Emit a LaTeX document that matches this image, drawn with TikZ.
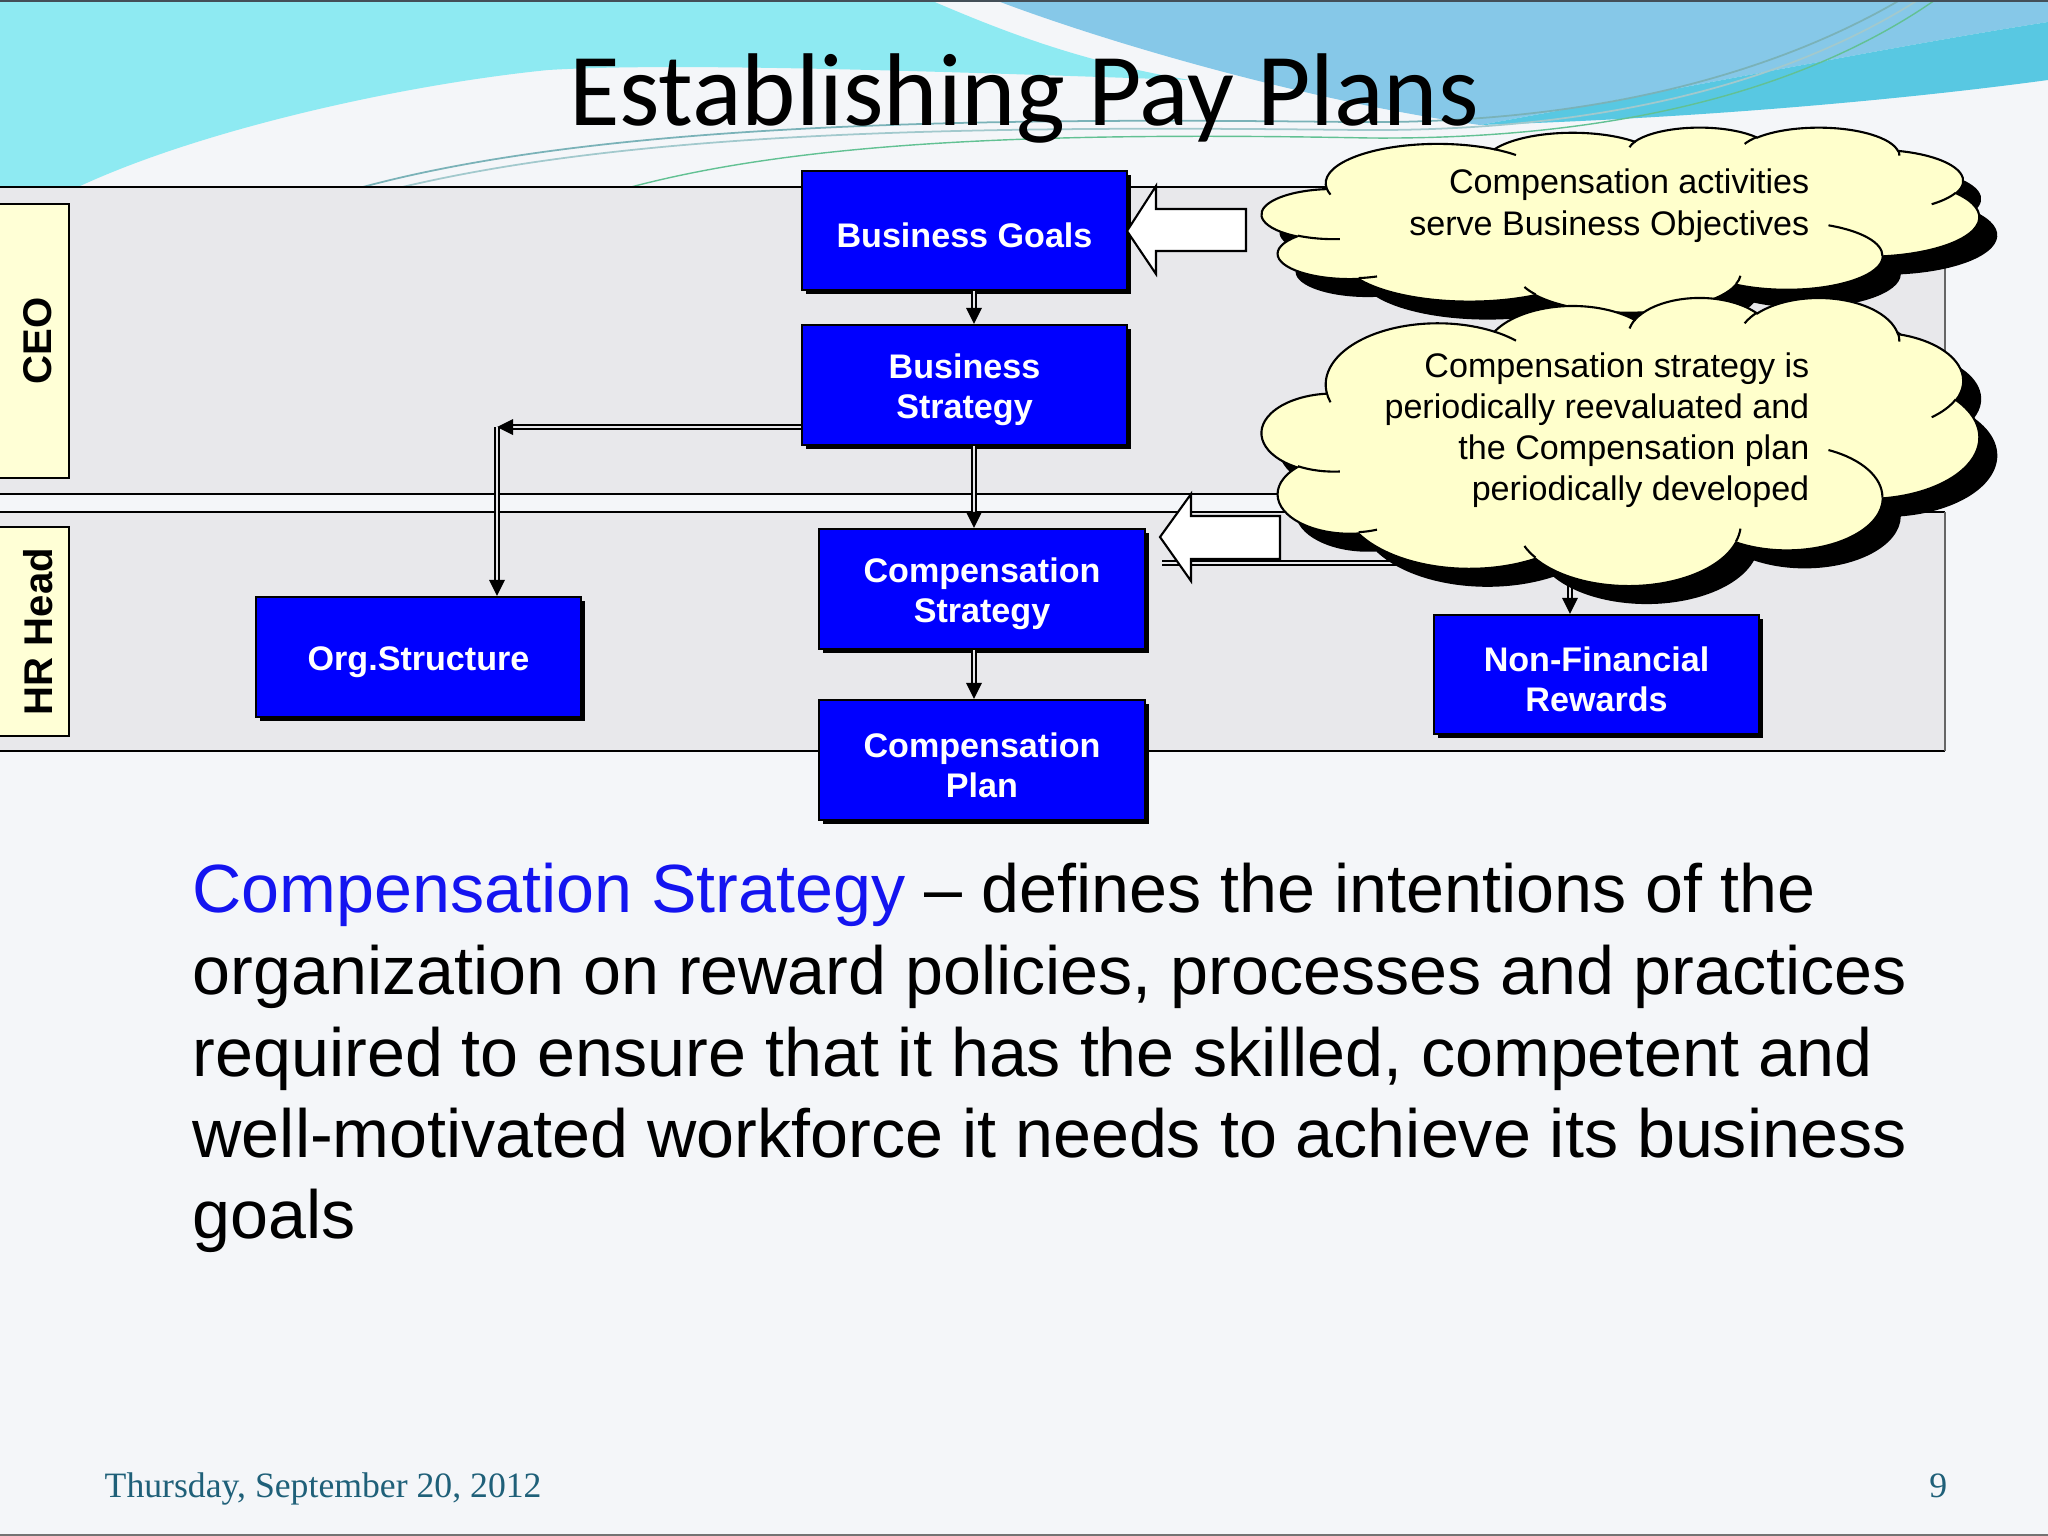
\documentclass[tikz,border=0pt]{standalone}
\usepackage{fontspec}
\setmainfont{Liberation Sans}
\newfontfamily\titlefont{Carlito}
\newfontfamily\footfont{Liberation Serif}
\usetikzlibrary{arrows.meta,calc,shadows}

\definecolor{pagebg}{HTML}{F4F6F9}
\definecolor{lanegray}{HTML}{E8E8EB}
\definecolor{labelyel}{HTML}{FFFFD6}
\definecolor{cloudyel}{HTML}{FFFFCC}
\definecolor{boxblue}{HTML}{0000FF}
\definecolor{textblue}{HTML}{1414F0}
\definecolor{topcyan}{HTML}{8EEAF2}
\definecolor{topblue}{HTML}{86C8E8}
\definecolor{stripecol}{HTML}{58C8E2}
\definecolor{footcol}{HTML}{1F6079}
\definecolor{swoosh}{HTML}{7AB2B8}

\newcommand\prepArc[5]{%
  \pgfmathsetmacro\tmpA{atan2((#2)*sin(#4),(#3)*cos(#4))}%
  \pgfmathsetmacro\tmpB{atan2((#2)*sin((#4)+(#5)),(#3)*cos((#4)+(#5)))}%
  \pgfmathsetmacro\tmpD{mod(\tmpB-\tmpA+720,360)}%
  \expandafter\xdef\csname cs#1\endcsname{\tmpA}%
  \expandafter\xdef\csname cd#1\endcsname{\tmpD}%
}
\prepArc{1}{6.753}{9.190}{-190.487}{123.781}
\prepArc{2}{5.333}{7.267}{-144.102}{89.945}
\prepArc{3}{4.365}{5.945}{-145.808}{99.723}
\prepArc{4}{4.857}{6.595}{-130.986}{117.242}
\prepArc{5}{5.333}{7.273}{-78.709}{109.027}
\prepArc{6}{6.775}{9.220}{-46.267}{130.269}
\prepArc{7}{5.785}{7.867}{0.625}{114.033}
\prepArc{8}{6.752}{9.215}{22.452}{115.173}
\prepArc{9}{7.720}{10.543}{66.243}{75.711}
\prepArc{10}{4.360}{5.918}{-274.942}{146.736}
\prepArc{11}{4.345}{5.945}{-246.829}{152.519}
\prepArc{a}{4.345}{5.945}{86.742}{26.430}
\prepArc{b}{4.360}{5.918}{73.611}{11.447}
\prepArc{c}{6.752}{9.215}{137.624}{14.081}
\prepArc{d}{6.752}{9.215}{6.453}{15.998}
\prepArc{e}{5.785}{7.867}{-70.292}{70.917}
\prepArc{f}{5.333}{7.273}{30.318}{27.752}
\prepArc{g}{4.857}{6.595}{-13.744}{14.859}
\prepArc{h}{4.857}{6.595}{-149.181}{18.195}
\prepArc{i}{4.365}{5.945}{-163.494}{17.686}
\prepArc{j}{6.753}{9.190}{-66.707}{12.319}
\prepArc{k}{6.753}{9.190}{157.654}{11.858}

\newcommand\cloudshape[5]{%
\begin{scope}[shift={(#1,#2)},xscale=#3/43.2,yscale=#4/43.2]
\path[#5] (3.9,14.37)
 arc[start angle=\csname cs1\endcsname,delta angle=\csname cd1\endcsname,x radius=6.753,y radius=9.190]
 arc[start angle=\csname cs2\endcsname,delta angle=\csname cd2\endcsname,x radius=5.333,y radius=7.267]
 arc[start angle=\csname cs3\endcsname,delta angle=\csname cd3\endcsname,x radius=4.365,y radius=5.945]
 arc[start angle=\csname cs4\endcsname,delta angle=\csname cd4\endcsname,x radius=4.857,y radius=6.595]
 arc[start angle=\csname cs5\endcsname,delta angle=\csname cd5\endcsname,x radius=5.333,y radius=7.273]
 arc[start angle=\csname cs6\endcsname,delta angle=\csname cd6\endcsname,x radius=6.775,y radius=9.220]
 arc[start angle=\csname cs7\endcsname,delta angle=\csname cd7\endcsname,x radius=5.785,y radius=7.867]
 arc[start angle=\csname cs8\endcsname,delta angle=\csname cd8\endcsname,x radius=6.752,y radius=9.215]
 arc[start angle=\csname cs9\endcsname,delta angle=\csname cd9\endcsname,x radius=7.720,y radius=10.543]
 arc[start angle=\csname cs10\endcsname,delta angle=\csname cd10\endcsname,x radius=4.360,y radius=5.918]
 arc[start angle=\csname cs11\endcsname,delta angle=\csname cd11\endcsname,x radius=4.345,y radius=5.945]
 -- cycle;
\end{scope}}

\newcommand\cloudinner[4]{%
\begin{scope}[shift={(#1,#2)},xscale=#3/43.2,yscale=#4/43.2]
\draw[cloudline]
 (4.693,26.177) arc[start angle=\csname csa\endcsname,delta angle=\csname cda\endcsname,x radius=4.345,y radius=5.945]
 (6.928,34.899) arc[start angle=\csname csb\endcsname,delta angle=\csname cdb\endcsname,x radius=4.360,y radius=5.918]
 (16.478,39.090) arc[start angle=\csname csc\endcsname,delta angle=\csname cdc\endcsname,x radius=6.752,y radius=9.215]
 (28.827,34.751) arc[start angle=\csname csd\endcsname,delta angle=\csname cdd\endcsname,x radius=6.752,y radius=9.215]
 (34.129,22.954) arc[start angle=\csname cse\endcsname,delta angle=\csname cde\endcsname,x radius=5.785,y radius=7.867]
 (41.798,15.354) arc[start angle=\csname csf\endcsname,delta angle=\csname cdf\endcsname,x radius=5.333,y radius=7.273]
 (38.324,5.426) arc[start angle=\csname csg\endcsname,delta angle=\csname cdg\endcsname,x radius=4.857,y radius=6.595]
 (29.078,3.952) arc[start angle=\csname csh\endcsname,delta angle=\csname cdh\endcsname,x radius=4.857,y radius=6.595]
 (22.141,4.720) arc[start angle=\csname csi\endcsname,delta angle=\csname cdi\endcsname,x radius=4.365,y radius=5.945]
 (14.000,5.192) arc[start angle=\csname csj\endcsname,delta angle=\csname cdj\endcsname,x radius=6.753,y radius=9.190]
 (4.127,15.789) arc[start angle=\csname csk\endcsname,delta angle=\csname cdk\endcsname,x radius=6.753,y radius=9.190];
\end{scope}}

\newcommand\tipdown[1]{\fill[black] (#1) -- ++(-8,-16) -- ++(16,0) -- cycle;}
\newcommand\tipleft[1]{\fill[black] (#1) -- ++(16,-8) -- ++(0,16) -- cycle;}

\tikzset{
  lanefill/.style={fill=lanegray},
  lanestroke/.style={draw=black, line width=0.6pt},
  labelbox/.style={draw=black, line width=0.6pt, fill=labelyel, inner sep=0pt},
  lanetext/.style={rotate=90, inner sep=0pt, font=\bfseries\fontsize{11.4}{13}\selectfont},
  bluebox/.style={draw=black, line width=0.6pt, fill=boxblue, inner sep=0pt,
     drop shadow={shadow xshift=1.1pt, shadow yshift=-1.1pt, fill=black, opacity=1}},
  boxlabel/.style={text=white, align=center, inner sep=0pt, yshift=-1.4pt,
     font=\bfseries\fontsize{9.7}{11.4}\selectfont},
  dbl/.style={draw=black, line width=0.45pt, double=lanegray, double distance=0.7pt},
  blockarrow/.style={draw=black, line width=0.6pt, fill=white, line join=miter},
  cloudline/.style={draw=black, line width=0.6pt},
  cloudtext/.style={anchor=base east, inner sep=0pt, font=\fontsize{9.7}{11.5}\selectfont},
  bodytext/.style={anchor=base west, inner sep=0pt, font=\fontsize{19.4}{23}\selectfont},
  foottext/.style={inner sep=0pt, text=footcol, font=\footfont\fontsize{10.15}{12}\selectfont},
}

\begin{document}
\begin{tikzpicture}[x=0.01cm, y=-0.01cm]
\useasboundingbox (0,0) rectangle (2048,1536);
% page
\fill[pagebg] (0,0) rectangle (2048,1536);
% top decoration
\fill[topcyan] (0,0) -- (930,0) .. controls (1000,30) and (1080,62) .. (1190,80)
   .. controls (950,72) and (680,62) .. (548,70)
   .. controls (400,85) and (200,130) .. (78,187) -- (0,196) -- cycle;
\fill[topblue] (995,0) .. controls (1100,40) and (1300,100) .. (1480,125)
   .. controls (1700,85) and (1900,45) .. (2048,22) -- (2048,0) -- cycle;
\fill[stripecol] (1480,125) .. controls (1700,85) and (1900,45) .. (2048,22)
   -- (2048,80) .. controls (1900,100) and (1700,118) .. (1480,125) -- cycle;
\draw[swoosh, line width=0.5pt] (352,190) .. controls (600,120) and (1000,118) .. (1350,122) .. controls (1600,125) and (1780,70) .. (1900,0);
\draw[swoosh!70!white, line width=0.5pt] (390,190) .. controls (640,128) and (1000,126) .. (1360,130) .. controls (1620,132) and (1800,75) .. (1918,0);
\draw[swoosh!80!green, line width=0.4pt] (620,190) .. controls (800,140) and (1050,132) .. (1370,138) .. controls (1640,140) and (1820,80) .. (1935,0);
\draw[black!75!cyan, line width=0.8pt] (0,1) -- (2048,1);

% lanes
\fill[lanefill] (-5,187) rectangle (1945,494);
\draw[lanestroke] (-5,187) -- (1945,187);
\draw[lanestroke] (-5,494) -- (1945,494);
\draw[black!60, line width=0.4pt] (1945,187) -- (1945,494);
\fill[lanefill] (-5,512) rectangle (1945,751);
\draw[lanestroke] (-5,512) -- (1945,512);
\draw[lanestroke] (-5,751) -- (1945,751);
\draw[black!60, line width=0.4pt] (1945,512) -- (1945,751);

\node[labelbox, minimum width=0.72cm, minimum height=2.74cm] (ceo) at (33,341) {};
\node[lanetext] (ceotext) at ([xshift=1.4pt]ceo.center) {CEO};
\node[labelbox, minimum width=0.72cm, minimum height=2.09cm] (hr) at (33,631.5) {};
\node[lanetext] (hrtext) at ([xshift=1.4pt]hr.center) {HR Head};

% boxes
\node[bluebox, minimum width=3.25cm, minimum height=1.19cm, label={[boxlabel]center:Business Goals}] (bg) at (964.5,230.5) {};
\node[bluebox, minimum width=3.25cm, minimum height=1.20cm, label={[boxlabel]center:{Business\\Strategy}}] (bs) at (964.5,385) {};
\node[bluebox, minimum width=3.26cm, minimum height=1.20cm, label={[boxlabel]center:{Compensation\\Strategy}}] (cs) at (982,589) {};
\node[bluebox, minimum width=3.26cm, minimum height=1.20cm, label={[boxlabel]center:{Compensation\\Plan}}] (cp) at (982,760) {};
\node[bluebox, minimum width=3.25cm, minimum height=1.19cm, label={[boxlabel]center:{Non-Financial\\Rewards}}] (nfr) at (1596.5,674.5) {};
\node[bluebox, minimum width=3.25cm, minimum height=1.20cm, label={[boxlabel]center:Org.Structure}] (org) at (418.5,657) {};

% connectors
\coordinate (xa) at (974,0);
\coordinate (c1) at (497,427);
\coordinate (c2) at (1570,560);
\coordinate (c3) at (1420,563);
\coordinate (c4) at (1162,563);
\draw[dbl, shorten >=4pt] (bg.south -| xa) -- (bs.north -| xa);
\tipdown{bs.north -| xa}
\draw[dbl, shorten >=4pt] (bs.south -| xa) -- (cs.north -| xa);
\tipdown{cs.north -| xa}
\draw[dbl, shorten >=4pt] (cs.south -| xa) -- (cp.north -| xa);
\tipdown{cp.north -| xa}
\draw[dbl, shorten >=4pt] (bs.west |- c1) -- (c1);
\tipleft{c1}
\draw[dbl, shorten >=4pt] (c1) -- (org.north -| c1);
\tipdown{org.north -| c1}
\draw[dbl, shorten >=4pt] (c2) -- (nfr.north -| c2);
\tipdown{nfr.north -| c2}
\draw[dbl] (c3) -- (c4);

% block arrows
\draw[blockarrow] (1127,231) -- (1156,186) -- (1156,209) -- (1246,209) -- (1246,251) -- (1156,251) -- (1156,274) -- cycle;
\draw[blockarrow] (1160,537) -- (1191,494) -- (1191,516) -- (1280,516) -- (1280,559) -- (1191,559) -- (1191,581) -- cycle;

% clouds
\cloudshape{1280}{145}{717}{185}{fill=black}
\cloudshape{1262}{127}{717}{185}{fill=cloudyel, draw=black, line width=0.6pt}
\cloudinner{1262}{127}{717}{185}
\cloudshape{1280}{315}{717}{288}{fill=black}
\cloudshape{1262}{297}{717}{288}{fill=cloudyel, draw=black, line width=0.6pt}
\cloudinner{1262}{297}{717}{288}

\node[cloudtext] (t1a) at (1810,193) {Compensation activities};
\node[cloudtext] (t1b) at (1810,235) {serve Business Objectives};
\node[cloudtext] (t2a) at (1810,377) {Compensation strategy is};
\node[cloudtext] (t2b) at (1810,418) {periodically reevaluated and};
\node[cloudtext] (t2c) at (1810,459) {the Compensation plan};
\node[cloudtext] (t2d) at (1810,500) {periodically developed};

% title
\node[anchor=base, inner sep=0pt, font=\titlefont\fontsize{29.4}{35}\selectfont] (title) at (1024,125) {Establishing Pay Plans};

% body
\node[bodytext] (l1) at (192,912) {{\color{textblue}Compensation Strategy} – defines the intentions of the};
\node[bodytext] (l2) at (192,994) {organization on reward policies, processes and practices};
\node[bodytext] (l3) at (192,1076) {required to ensure that it has the skilled, competent and};
\node[bodytext] (l4) at (192,1157) {well-motivated workforce it needs to achieve its business};
\node[bodytext] (l5) at (192,1238) {goals};

% footer
\node[foottext, anchor=base west] (date) at (104,1497) {Thursday, September 20, 2012};
\node[foottext, anchor=base east] (pg) at (1948,1497) {9};
\draw[black!55, line width=0.6pt] (0,1535) -- (2048,1535);
\end{tikzpicture}
\end{document}
